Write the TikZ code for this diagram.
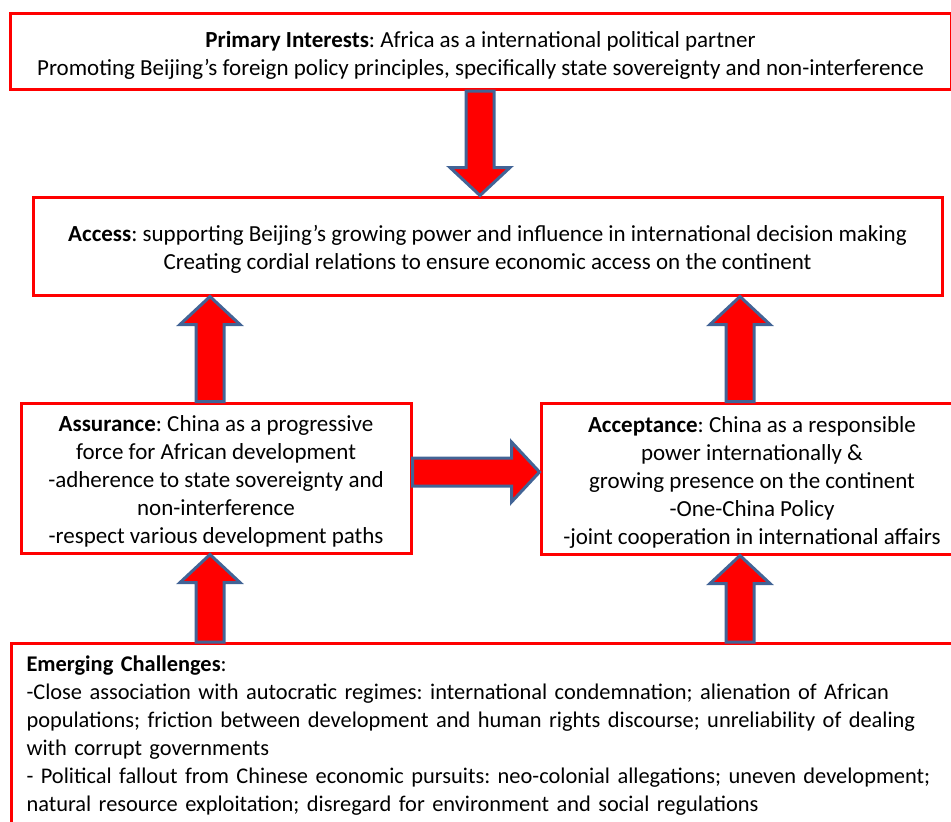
\documentclass[tikz,border=0pt]{standalone}
\usepackage{fontspec}
\setmainfont{Carlito}
\usetikzlibrary{calc}
\definecolor{boxred}{RGB}{255,0,0}
\definecolor{arrowedge}{RGB}{66,100,150}
\frenchspacing
\newcommand{\firstline}{\rule{0pt}{11.6pt}}
\begin{document}
\begin{tikzpicture}[
			x=0.5pt, y=-0.5pt,
			font=\fontsize{11.5}{14}\selectfont,
			panel/.style={draw=boxred, line width=1.5pt, align=center, inner sep=0pt},
			fat/.style={fill=boxred, draw=arrowedge, line width=1.5pt, line join=miter,
				to path={
					($(\tikztostart)!7pt!90:(\tikztotarget)$)
					-- ($($(\tikztotarget)!14pt!(\tikztostart)$)!7pt!90:(\tikztotarget)$)
					-- ($($(\tikztotarget)!14pt!(\tikztostart)$)!15pt!90:(\tikztotarget)$)
					-- (\tikztotarget)
					-- ($($(\tikztotarget)!14pt!(\tikztostart)$)!15pt!-90:(\tikztotarget)$)
					-- ($($(\tikztotarget)!14pt!(\tikztostart)$)!7pt!-90:(\tikztotarget)$)
					-- ($(\tikztostart)!7pt!-90:(\tikztotarget)$)
					-- cycle}}
			]
			\useasboundingbox (0,0) rectangle (951,821);
			
			\node[panel, minimum width=470.5pt, minimum height=38pt] (top) at (480.5,51.5)
				{\firstline\textbf{Primary Interests}: Africa as a international political partner\\
				Promoting Beijing’s foreign policy principles, specifically state sovereignty and non-interference};
			
			\node[panel, minimum width=454.5pt, minimum height=49pt] (access) at (487.5,246)
				{\firstline\textbf{Access}: supporting Beijing’s growing power and influence in international decision making\\
				Creating cordial relations to ensure economic access on the continent};
			
			\node[panel, minimum width=195pt, minimum height=75pt] (assur) at (216,478)
				{\firstline\textbf{Assurance}: China as a progressive\\
				force for African development\\
				-adherence to state sovereignty and\\
				non-interference\\
				-respect various development paths};
			
			\node[panel, minimum width=211pt, minimum height=75.5pt] (accept) at (752,478.5)
				{\firstline\textbf{Acceptance}: China as a responsible\\
				power internationally \&\\
				growing presence on the continent\\
				-One-China Policy\\
				-joint cooperation in international affairs};
			
			\node[panel, anchor=north west, align=left, text width=470pt,
				font=\fontsize{11.2}{14}\selectfont,
				inner xsep=7.5pt, inner ysep=6pt] (chall) at (10,642)
				{\textbf{Emerging Challenges}:\\
				-Close association with autocratic regimes: international condemnation; alienation of African\\
				populations; friction between development and human rights discourse; unreliability of dealing\\
				with corrupt governments\\
				- Political fallout from Chinese economic pursuits: neo-colonial allegations; uneven development;\\
				natural resource exploitation; disregard for environment and social regulations};
			
			\draw[fat] (top.south -| 480,0) to (access.north -| 480,0);
			\draw[fat] (assur.north -| 210,0) to (access.south -| 210,0);
			\draw[fat] (accept.north -| 740,0) to (access.south -| 740,0);
			\draw[fat] (assur.east |- 0,472) to (accept.west |- 0,472);
			\draw[fat] (chall.north -| 210,0) to (assur.south -| 210,0);
			\draw[fat] (chall.north -| 740,0) to (accept.south -| 740,0);
		\end{tikzpicture}
\end{document}
